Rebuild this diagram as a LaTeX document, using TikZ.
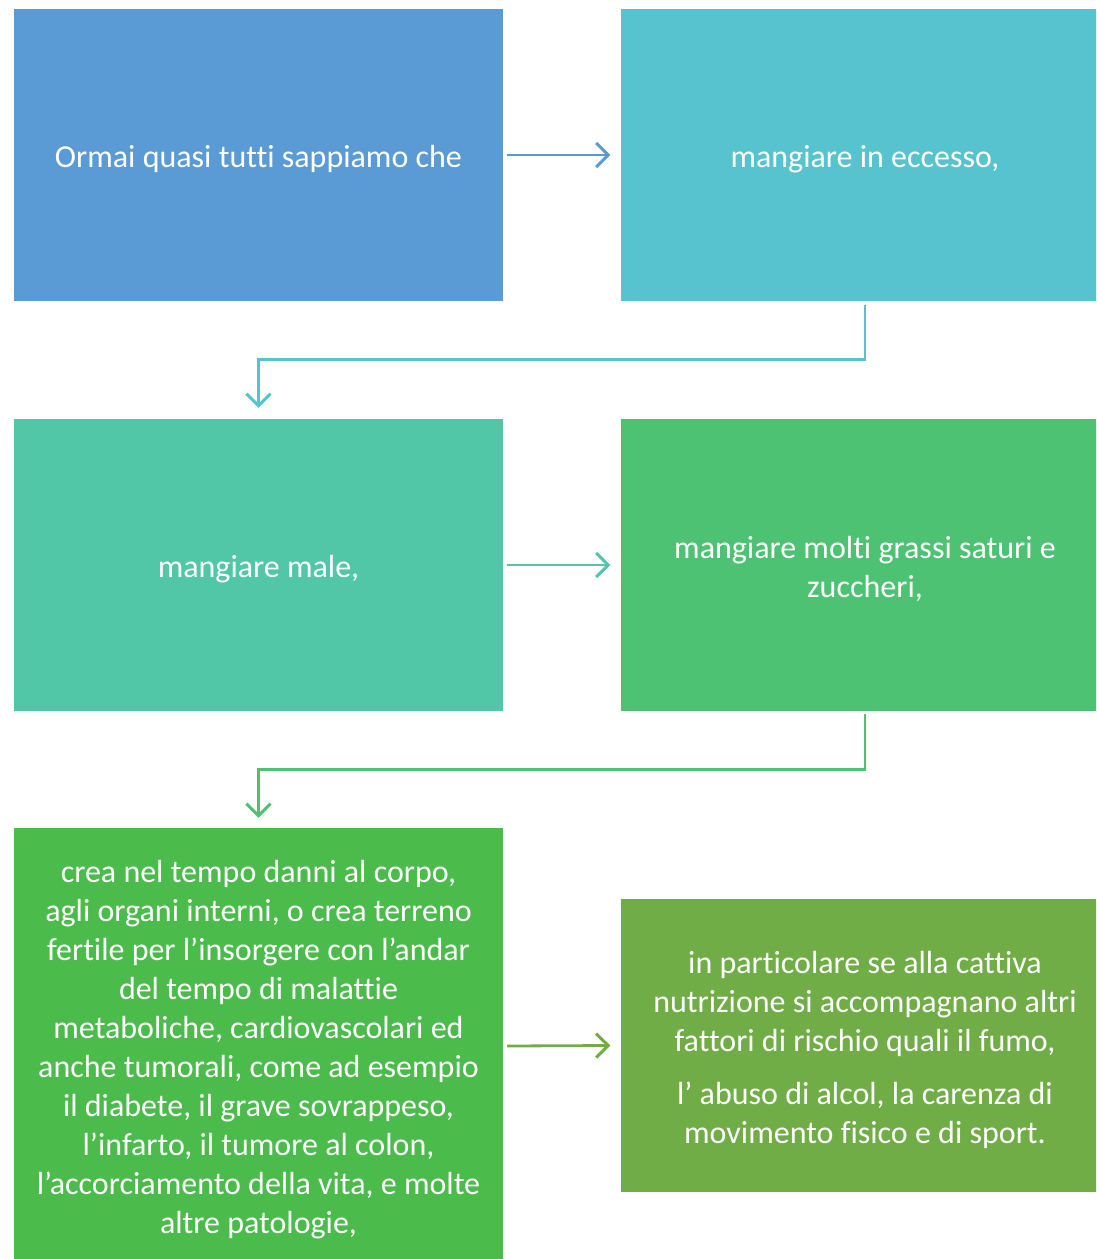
\documentclass[tikz,border=0pt]{standalone}
\usepackage{fontspec}
\setmainfont{Carlito}[Ligatures={NoCommon}]
\usetikzlibrary{arrows.meta}
\definecolor{cA}{HTML}{5B9BD5}
\definecolor{cB}{HTML}{56C3CE}
\definecolor{cC}{HTML}{52C7A8}
\definecolor{cD}{HTML}{4DC272}
\definecolor{cE}{HTML}{4BBB4B}
\definecolor{cF}{HTML}{70AD47}
\tikzset{
  box/.style={rectangle, draw=none, minimum width=489pt, minimum height=292pt, inner sep=0pt},
  txt/.style={inner sep=0pt, text=white, align=center, font=\fontsize{32}{39}\selectfont},
  arr/.style={line width=2.8pt, -{Straight Barb[length=12pt,width=24pt,line width=3pt]}}
}
\begin{document}
\begin{tikzpicture}[x=1pt,y=-1pt]
\path[use as bounding box, clip] (0,0) rectangle (1096,1259);
\node[box, fill=cA] (b1) at (258.5,155) {};
\node[box, fill=cB] (b2) at (865,155) {};
\node[box, fill=cC] (b3) at (258.5,565) {};
\node[box, fill=cD] (b4) at (865,565) {};
\node[box, fill=cE, minimum height=436pt] (b5) at (258.5,1046) {};
\node[box, fill=cF, minimum height=293pt] (b6) at (865,1045.5) {};
\node[txt] (t1) at ([yshift=-4pt]b1.center) {Ormai quasi tutti sappiamo che};
\node[txt] (t2) at ([yshift=-4pt]b2.center) {mangiare in eccesso,};
\node[txt] (t3) at ([yshift=-4pt]b3.center) {mangiare male,};
\node[txt] (t4) at ([yshift=-4pt]b4.center) {mangiare molti grassi saturi e\\zuccheri,};
\node[txt] (t5) at ([yshift=-4pt]b5.center) {crea nel tempo danni al corpo,\\agli organi interni, o crea terreno\\fertile per l’insorgere con l’andar\\del tempo di malattie\\metaboliche, cardiovascolari ed\\anche tumorali, come ad esempio\\il diabete, il grave sovrappeso,\\l’infarto, il tumore al colon,\\l’accorciamento della vita, e molte\\altre patologie,};
\node[txt] (t6) at ([yshift=-4pt]b6.center) {in particolare se alla cattiva\\nutrizione si accompagnano altri\\fattori di rischio quali il fumo,\\[14pt]l’ abuso di alcol, la carenza di\\movimento fisico e di sport.};
\draw[arr, draw=cA] ([xshift=4pt]b1.east) -- ([xshift=-10pt]b2.west);
\draw[arr, draw=cB] ([yshift=-4pt]b2.south) -- ([yshift=-58pt]b2.south) -| ([yshift=11pt]b3.north);
\draw[arr, draw=cC] ([xshift=4pt]b3.east) -- ([xshift=-10pt]b4.west);
\draw[arr, draw=cD] ([yshift=-3pt]b4.south) -- ([yshift=-58pt]b4.south) -| ([yshift=10pt]b5.north);
\draw[arr, draw=cF] ([xshift=4pt]b5.east) -- ([xshift=-10pt]b6.west);
\end{tikzpicture}
\end{document}
